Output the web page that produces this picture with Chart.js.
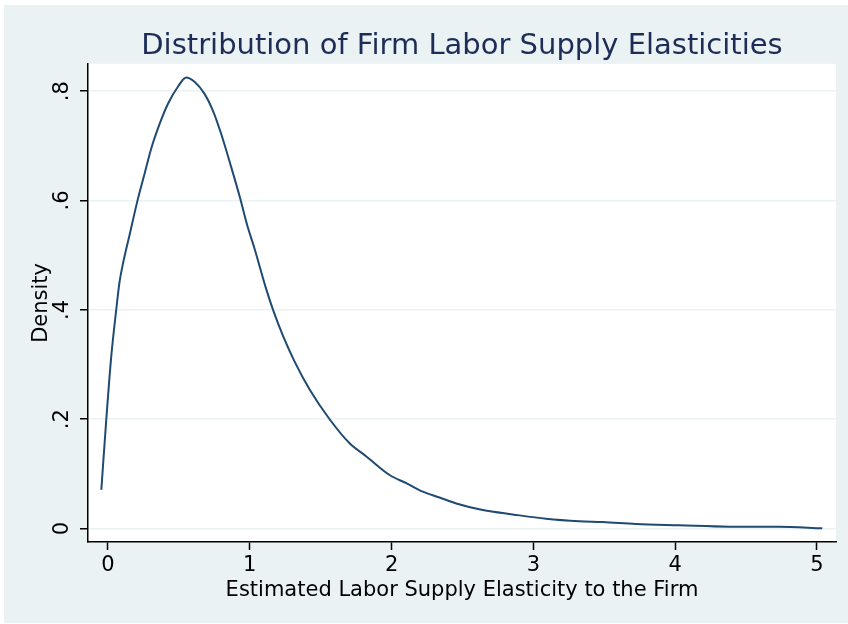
<!DOCTYPE html>
<html>
<head>
<meta charset="utf-8">
<script src="https://cdn.jsdelivr.net/npm/chart.js@4"></script>
<style>
  html, body { margin: 0; padding: 0; background: #fff; }
  #wrap { position: absolute; left: 4px; top: 5px; width: 844px; height: 618px; background: #eaf2f3; }
</style>
</head>
<body>
<div id="wrap"><canvas id="myChart" width="844" height="618"></canvas></div>
<script>
// kernel density
var elasticity = [-0.047, -0.012, 0.023, 0.058, 0.082, 0.106, 0.153, 0.211, 0.258, 0.305,
  0.364, 0.423, 0.493, 0.552, 0.61, 0.681, 0.739, 0.798, 0.869, 0.93,
  0.986, 1.03, 1.117, 1.164, 1.235, 1.317, 1.423, 1.563, 1.704, 1.822,
  1.986, 2.103, 2.22, 2.338, 2.456, 2.643, 2.854, 3.089, 3.324, 3.488,
  3.723, 4.028, 4.38, 4.73, 5.037];
var density = [0.071, 0.2, 0.315, 0.4, 0.452, 0.485, 0.538, 0.603, 0.649, 0.695,
  0.74, 0.777, 0.808, 0.825, 0.817, 0.795, 0.765, 0.722, 0.661, 0.606,
  0.551, 0.515, 0.437, 0.4, 0.352, 0.305, 0.254, 0.2, 0.156, 0.132,
  0.098, 0.083, 0.0675, 0.057, 0.046, 0.034, 0.026, 0.018, 0.0134, 0.012,
  0.0084, 0.006, 0.0035, 0.0035, 0.0005];

var xTicks = [0, 1, 2, 3, 4, 5];
var yTicks = [0, 0.2, 0.4, 0.6, 0.8];

var points = elasticity.map(function (x, i) { return { x: x, y: density[i] }; });

var font = "'DejaVu Sans', sans-serif";

// white plot region on the grey-blue background
var plotBg = {
  id: 'plotBg',
  beforeDraw: function (chart) {
    var a = chart.chartArea;
    var ctx = chart.ctx;
    ctx.save();
    ctx.fillStyle = '#ffffff';
    ctx.fillRect(a.left, a.top, a.right - a.left, a.bottom - a.top);
    ctx.restore();
  }
};

var ctx = document.getElementById("myChart");

var densityChart = new Chart(ctx, {
  type: 'line',
  data: {
    datasets: [{
      data: points,
      borderColor: '#1f4a72',
      borderWidth: 2,
      pointRadius: 0,
      fill: false,
      cubicInterpolationMode: 'monotone'
    }]
  },
  options: {
    responsive: false,
    animation: false,
    layout: { padding: { left: 0, right: 12, top: 0, bottom: 0 } },
    plugins: {
      legend: { display: false },
      tooltip: { enabled: false },
      title: {
        display: true,
        text: 'Distribution of Firm Labor Supply Elasticities',
        fullSize: false,
        color: '#1e2d57',
        font: { family: font, size: 29, weight: 'normal' },
        padding: { top: 24, bottom: 0 }
      }
    },
    scales: {
      x: {
        type: 'linear',
        min: -0.141,
        max: 5.134,
        afterBuildTicks: function (scale) {
          scale.ticks = xTicks.map(function (v) { return { value: v }; });
        },
        afterFit: function (scale) { scale.height = 81; },
        border: { display: true, color: '#000', width: 1.5 },
        grid: { drawOnChartArea: false, drawTicks: true, tickLength: 8, tickColor: '#000', tickWidth: 1.5 },
        ticks: {
          color: '#000',
          padding: 3,
          maxRotation: 0,
          font: { family: font, size: 21 },
          callback: function (v) { return String(v); }
        },
        title: {
          display: true,
          text: 'Estimated Labor Supply Elasticity to the Firm',
          color: '#000',
          font: { family: font, size: 21 },
          padding: { top: 0, bottom: 20 }
        }
      },
      y: {
        min: -0.0245,
        max: 0.85,
        afterBuildTicks: function (scale) {
          scale.ticks = yTicks.map(function (v) { return { value: v }; });
        },
        afterFit: function (scale) { scale.width = 84; },
        border: { display: true, color: '#000', width: 1.5 },
        grid: { color: '#eaf2f3', lineWidth: 1.5, drawTicks: true, tickLength: 8, tickColor: '#000', tickWidth: 1.5 },
        ticks: {
          color: '#000',
          padding: 7,
          minRotation: 90,
          maxRotation: 90,
          crossAlign: 'center',
          font: { family: font, size: 21 },
          callback: function (v) { return v === 0 ? '0' : String(v).replace(/^0/, ''); }
        },
        title: {
          display: true,
          text: 'Density',
          color: '#000',
          font: { family: font, size: 21 },
          padding: { top: 25, bottom: 0 }
        }
      }
    }
  },
  plugins: [plotBg]
});
</script>
</body>
</html>
